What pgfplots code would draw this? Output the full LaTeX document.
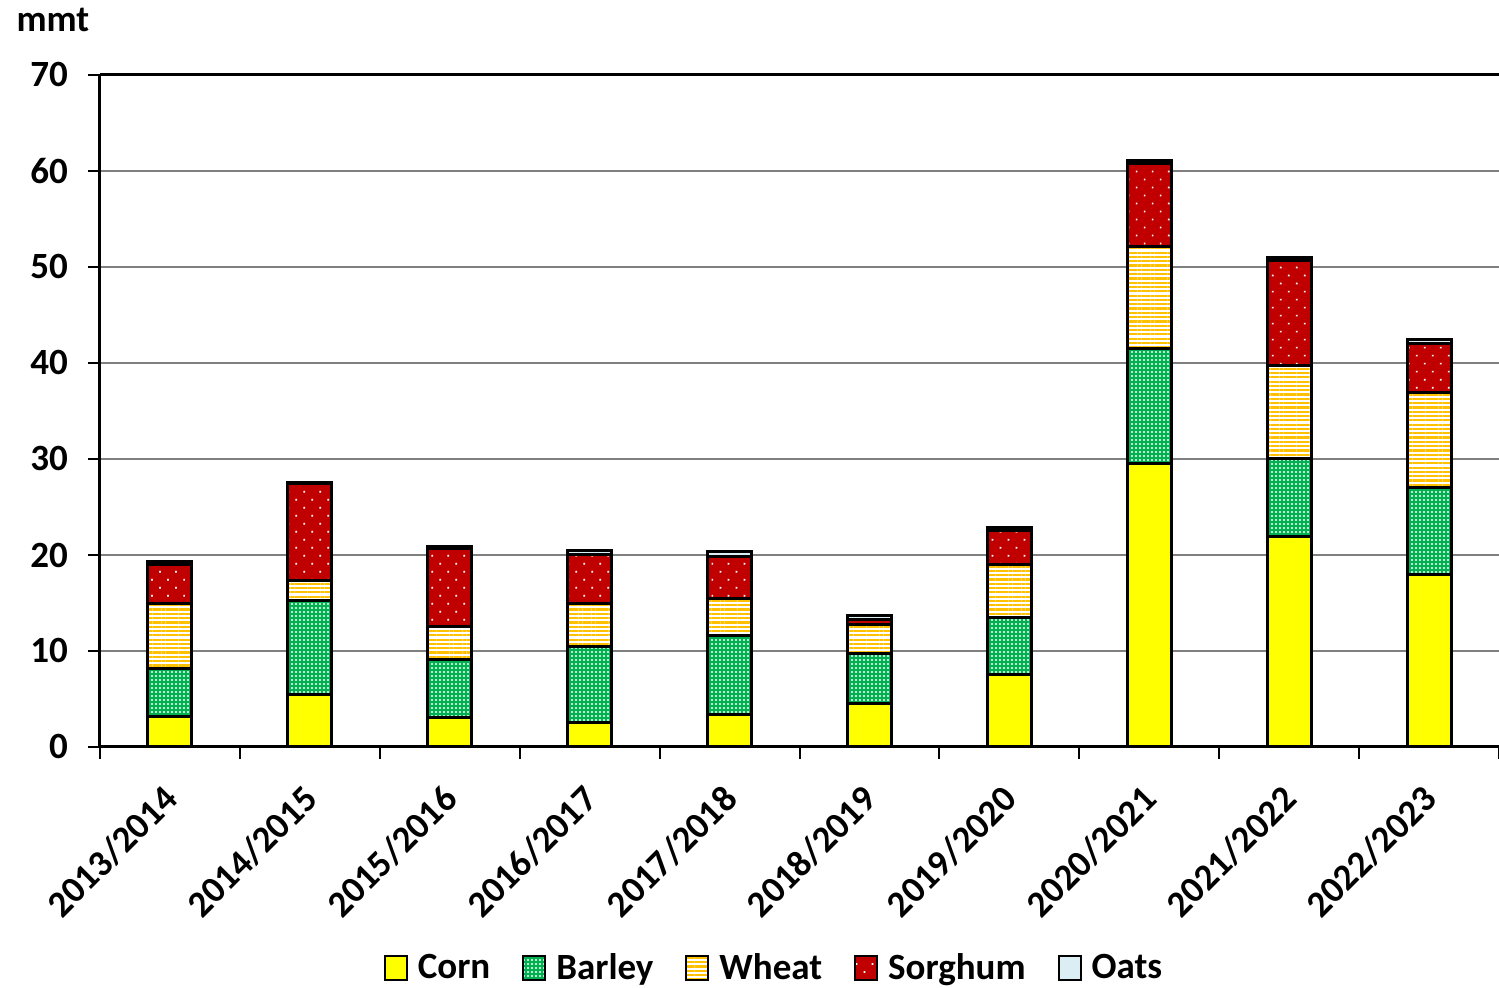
\documentclass[border=0pt]{standalone}
\usepackage{fontspec}
\setmainfont{Carlito}
\usepackage{pgfplots}
\pgfplotsset{compat=1.18}
\usepackage{pgfplotstable}
\usetikzlibrary{patterns.meta}
\definecolor{corn}{HTML}{FFFF00}
\definecolor{barley}{HTML}{00B050}
\definecolor{wheat}{HTML}{FFC000}
\definecolor{sorghum}{HTML}{C00000}
\definecolor{oats}{HTML}{DAEEF3}
\pgfplotstableread{
x corn barley wheat sorghum oats
0 3.2 5.0 6.7 4.1 0.3
1 5.5 9.8 2.0 10.1 0.2
2 3.1 6.0 3.4 8.2 0.2
3 2.5 8.0 4.4 5.2 0.4
4 3.4 8.2 3.9 4.3 0.6
5 4.5 5.2 3.1 0.5 0.4
6 7.6 5.9 5.5 3.6 0.3
7 29.5 12.0 10.6 8.7 0.3
8 21.9 8.2 9.6 11.0 0.3
9 18.0 9.0 9.9 5.1 0.4
}\datatable
\newcommand{\chartfont}{\fontsize{18.5}{21}\selectfont\bfseries}
\begin{document}
\begin{tikzpicture}
\begin{axis}[
  at={(0,0)}, anchor=south west,
  scale only axis,
  width=699.5pt, height=336pt,
  ybar stacked, bar width=22pt,
  xmin=-0.5, xmax=9.5,
  ymin=0, ymax=70,
  ytick={0,10,...,60},
  extra y ticks={70},
  extra y tick style={grid=major, major grid style={draw=black, line width=1.5pt}},
  xtick={0,...,9},
  xticklabels={2013/2014,2014/2015,2015/2016,2016/2017,2017/2018,2018/2019,2019/2020,2020/2021,2021/2022,2022/2023},
  minor xtick={-0.5,0.5,...,9.5},
  major x tick style={draw=none},
  minor x tick style={black, line width=1pt},
  y tick style={black, line width=1pt},
  tick align=outside,
  major tick length=6pt, minor tick length=6pt,
  axis lines*=left,
  axis line style={black, line width=1.5pt, -},
  ymajorgrids,
  major grid style={draw=black!50, line width=1pt},
  /pgf/number format/assume math mode=true,
  tick label style={font=\chartfont},
  yticklabel style={anchor=east, xshift=-6.5pt},
  xticklabel style={rotate=45, anchor=north east, inner sep=0pt, xshift=-11.45pt, yshift=-5.35pt},
  every axis plot/.append style={draw=black, line width=1.5pt},
  legend style={at={(0.4825,-0.329)}, anchor=center, draw=none, legend columns=-1,
    font=\chartfont,
    /tikz/every odd column/.append style={column sep=3pt},
    /tikz/every even column/.append style={column sep=14pt}},
  legend image code/.code={\draw[#1, line width=1pt] (0pt,-6pt) rectangle (11pt,6pt);},
]
\addplot[fill=corn] table[x=x, y=corn] {\datatable};
\addplot[fill=barley, postaction={pattern={Dots[distance=2pt, radius=0.6pt]}, pattern color=white}] table[x=x, y=barley] {\datatable};
\addplot[fill=white, postaction={pattern={Lines[angle=0, distance=2.15pt, line width=1.1pt]}, pattern color=wheat}] table[x=x, y=wheat] {\datatable};
\addplot[fill=sorghum, postaction={pattern={Dots[angle=45, distance=5.66pt, radius=0.6pt]}, pattern color=white}] table[x=x, y=sorghum] {\datatable};
\addplot[fill=oats] table[x=x, y=oats] {\datatable};
\legend{Corn,Barley,Wheat,Sorghum,Oats}
\end{axis}
\node[font=\chartfont] at (-23.5pt,363.5pt) {mmt};
\pgfresetboundingbox
\path (-50pt,-120.5pt) rectangle (699.5pt,373.5pt);
\end{tikzpicture}
\end{document}
